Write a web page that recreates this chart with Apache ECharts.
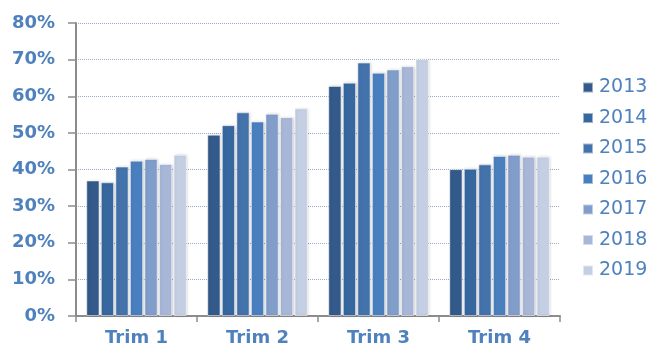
<!DOCTYPE html>
<html>
<head>
<meta charset="utf-8">
<script src="https://cdn.jsdelivr.net/npm/echarts@6/dist/echarts.min.js"></script>
<style>
  html, body { margin: 0; padding: 0; background: #fff; }
  #chart { width: 648px; height: 347px; }
</style>
</head>
<body>
<div id="chart"></div>
<script>
const quarters = ['Trim 1', 'Trim 2', 'Trim 3', 'Trim 4']
const years = ['2013', '2014', '2015', '2016', '2017', '2018', '2019']
const colors = ['#335a8a', '#36679f', '#4472ab', '#4a7fbf', '#819dc9', '#a8b7d8', '#c4cfe3']

// one array per year, values per quarter (%)
const v2013 = [37.0, 49.5, 62.8, 40.1]
const v2014 = [36.5, 52.1, 63.7, 40.2]
const v2015 = [40.8, 55.6, 69.2, 41.4]
const v2016 = [42.4, 53.1, 66.4, 43.7]
const v2017 = [42.9, 55.2, 67.3, 44.0]
const v2018 = [41.5, 54.3, 68.2, 43.5]
const v2019 = [44.0, 56.7, 70.1, 43.5]
const values = [v2013, v2014, v2015, v2016, v2017, v2018, v2019]

const el = document.getElementById('chart')
const chart = echarts.init(el)

const font = 'DejaVu Sans, sans-serif'

const option = {
  animation: false,
  grid: { left: 76, right: 88, top: 23, bottom: 31 },
  legend: {
    orient: 'vertical',
    left: 582,
    top: 78,
    padding: 0,
    itemWidth: 10,
    itemHeight: 10,
    itemGap: 11.5,
    icon: 'rect',
    textStyle: { color: '#4f81bd', fontSize: 19, fontFamily: font, padding: [0, 0, 0, 1] },
    data: years,
  },
  xAxis: {
    type: 'category',
    data: quarters,
    axisLine: { lineStyle: { color: '#8c8c8c', width: 2 } },
    axisTick: { show: true, length: 6, lineStyle: { color: '#8c8c8c', width: 1.5 } },
    axisLabel: { color: '#4f81bd', fontSize: 18, fontWeight: 'bold', fontFamily: font, margin: 13 },
  },
  yAxis: {
    type: 'value',
    min: 0,
    max: 80,
    interval: 10,
    axisLine: { show: true, lineStyle: { color: '#8c8c8c', width: 2 } },
    axisTick: { show: true, length: 8, lineStyle: { color: '#8c8c8c', width: 1.5 } },
    axisLabel: { color: '#4f81bd', fontSize: 18, fontWeight: 'bold', fontFamily: font, margin: 21, formatter: '{value}%' },
    splitLine: { lineStyle: { color: '#9aaac4', type: 'dotted', width: 1 } },
  },
  series: years.map((y, i) => ({
    name: y,
    type: 'bar',
    data: values[i],
    barGap: '10%',
    barCategoryGap: '17%',
    itemStyle: {
      color: colors[i],
      borderColor: 'rgba(255,255,255,0.5)',
      borderWidth: 1,
      shadowColor: 'rgba(0,0,0,0.18)',
      shadowBlur: 3,
      shadowOffsetX: 1,
    },
  })),
}

chart.setOption(option, true)
window.addEventListener('resize', () => chart.resize())
</script>
</body>
</html>
